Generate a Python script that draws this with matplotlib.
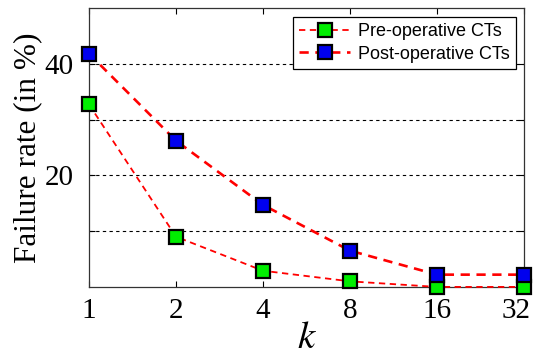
import matplotlib
matplotlib.use("Agg")
import matplotlib.pyplot as plt
import matplotlib.transforms as mtransforms

plt.rcParams["mathtext.fontset"] = "stix"

k_values = [1, 2, 4, 8, 16, 32]
k_labels = ["1", "2", "4", "8", "16", "32"]
pre_op = [32.7, 9.0, 2.9, 1.0, 0.0, 0.0]
post_op = [41.8, 26.2, 14.7, 6.5, 2.2, 2.2]
y_ticks = [10, 20, 30, 40]
y_labels = ["", "20", "", "40"]

fig = plt.figure(figsize=(5.33, 3.6), dpi=100)
ax = fig.add_axes([0.167, 0.203, 0.816, 0.775])
ax.set_xscale("log", base=2)

ax.plot(k_values, pre_op, linestyle=(0, (3.5, 2.5)), color="red", lw=1.3, marker="s",
        markersize=9.5, markerfacecolor="#00ee00", markeredgecolor="black",
        markeredgewidth=1.6, clip_on=False, zorder=4, label="Pre-operative CTs")
ax.plot(k_values, post_op, linestyle=(0, (3.5, 2.5)), color="red", lw=1.9, marker="s",
        markersize=9.5, markerfacecolor="#0000ee", markeredgecolor="black",
        markeredgewidth=1.6, clip_on=False, zorder=5, label="Post-operative CTs")

ax.set_xlim(1, 32)
ax.set_ylim(0, 50)
ax.set_xticks(k_values)
ax.set_xticklabels(k_labels)
ax.minorticks_off()
ax.set_yticks(y_ticks)
ax.set_yticklabels(y_labels)
for y in y_ticks:
    ax.axhline(y, color="black", linestyle=(0, (3, 3)), lw=0.8, zorder=1)

ax.tick_params(direction="in", top=True, right=True, length=4, width=0.8,
               labelsize=21)
ax.tick_params(axis="x", pad=8)
ax.tick_params(axis="y", pad=11)
for lab in ax.get_xticklabels() + ax.get_yticklabels():
    lab.set_family("Liberation Serif")
last = ax.get_xticklabels()[-1]
last.set_transform(last.get_transform() +
                   mtransforms.ScaledTranslation(-8 / 100, 0, fig.dpi_scale_trans))
for s in ax.spines.values():
    s.set_linewidth(0.9)
    s.set_color("#333333")

ax.set_xlabel("$k$", fontsize=28, labelpad=-4)
ax.set_ylabel("Failure rate (in %)", fontsize=22.5, family="Liberation Serif", labelpad=2)

leg = ax.legend(loc="upper right", prop={"family": "Liberation Sans", "size": 13},
                frameon=True, fancybox=False, edgecolor="black", framealpha=1,
                borderpad=0.35, handlelength=2.8, handletextpad=0.45,
                labelspacing=0.3, borderaxespad=0,
                bbox_to_anchor=(0.982, 0.968))
leg.get_frame().set_linewidth(0.9)

fig.savefig("out.png", dpi=100)
